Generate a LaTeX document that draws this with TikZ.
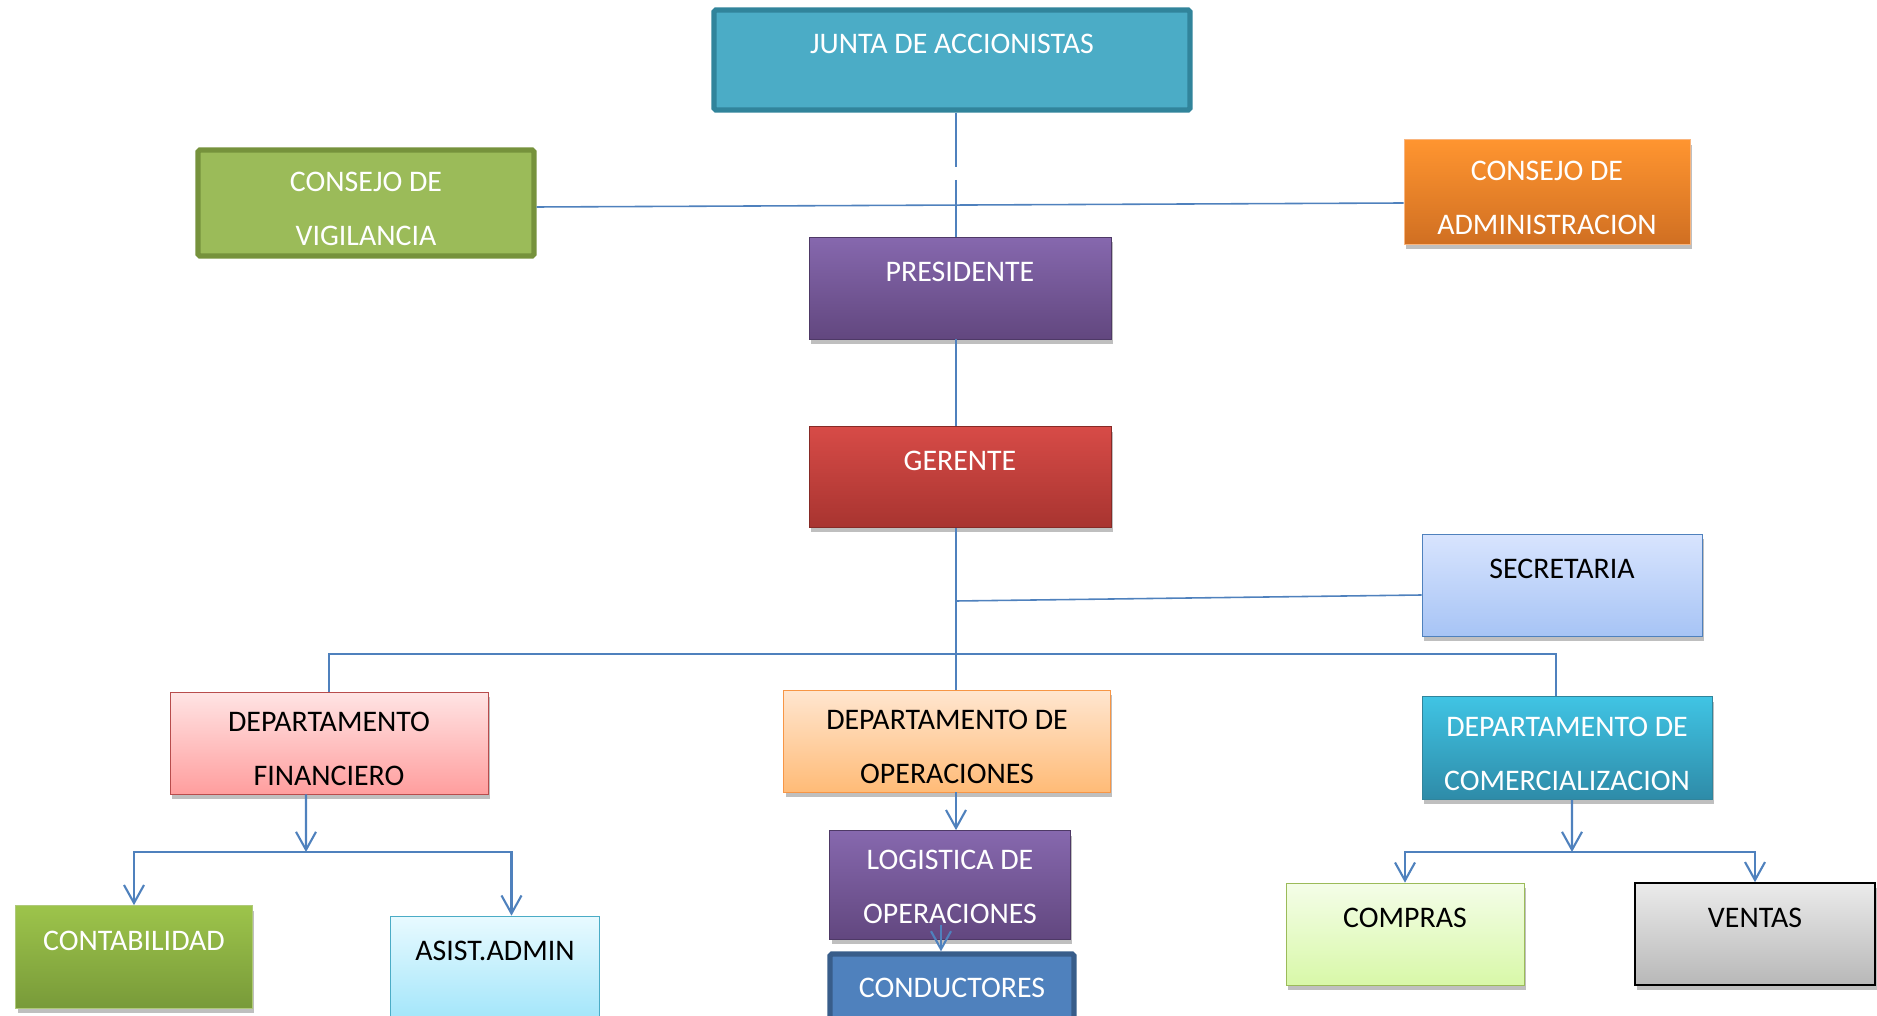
\documentclass[tikz,border=0pt]{standalone}
\usepackage{fontspec}
\setmainfont{Carlito}
\usepackage{tikz}
\usetikzlibrary{arrows.meta,shadows}

\definecolor{azul}{HTML}{4F81BD}
\definecolor{azulosc}{HTML}{385D8A}
\definecolor{turq}{HTML}{4BACC6}
\definecolor{turqosc}{HTML}{31849B}
\definecolor{verde}{HTML}{9BBB59}
\definecolor{verdeosc}{HTML}{76923C}
\definecolor{naranja}{HTML}{F79646}
\definecolor{moradoA}{HTML}{8668AE}
\definecolor{moradoB}{HTML}{62477F}
\definecolor{rojoA}{HTML}{D74B47}
\definecolor{rojoB}{HTML}{A83430}

\begin{document}
\begin{tikzpicture}[
    x=0.02cm, y=-0.02cm,
    caja/.style={rectangle,inner sep=0pt,align=center,
                 font=\fontsize{17}{30.6}\selectfont},
    una/.style={text height=0.45cm,text depth=0.71cm},
    dos/.style={text height=1.8cm,text depth=0.1cm},
    sombra/.style={drop shadow={shadow xshift=0.04cm,shadow yshift=-0.1cm,
                   opacity=0.25,fill=black}},
    morado/.style={top color=moradoA,bottom color=moradoB,draw=moradoB!80!black,text=white},
    linea/.style={draw=azul,line width=0.9pt},
    flecha/.style={linea,line width=1.2pt,-{Straight Barb[length=0.36cm,width=0.4cm]}}
]
\useasboundingbox (0,0) rectangle (1877,1016);

% cabeza
\node[caja,una,minimum width=9.52cm,minimum height=2cm,fill=turq,draw=turqosc,
      line width=3pt,rounded corners=1pt,text=white] (junta) at (952,60) {JUNTA DE ACCIONISTAS};
\node[caja,dos,minimum width=6.72cm,minimum height=2.12cm,fill=verde,draw=verdeosc,
      line width=3pt,rounded corners=1pt,text=white] (vig) at (366,203) {CONSEJO DE\\VIGILANCIA};
\node[caja,dos,sombra,minimum width=5.72cm,minimum height=2.1cm,top color={rgb,255:red,255;green,149;blue,48},
      bottom color={rgb,255:red,208;green,111;blue,34},draw=naranja!70,text=white] (adm) at (1547,192) {CONSEJO DE\\ADMINISTRACION};
\node[caja,una,sombra,morado,minimum width=6.04cm,minimum height=2.04cm] (pres) at (960,288) {PRESIDENTE};
\node[caja,una,sombra,minimum width=6.04cm,minimum height=2.02cm,top color=rojoA,
      bottom color=rojoB,draw=rojoB!80!black,text=white] (ger) at (960,477) {GERENTE};
\node[caja,una,sombra,minimum width=5.6cm,minimum height=2.04cm,top color={rgb,255:red,216;green,228;blue,254},
      bottom color={rgb,255:red,167;green,196;blue,245},draw=azul] (sec) at (1562,585) {SECRETARIA};

% departamentos
\node[caja,dos,sombra,minimum width=6.36cm,minimum height=2.04cm,top color={rgb,255:red,255;green,228;blue,228},
      bottom color={rgb,255:red,255;green,158;blue,158},draw=red!60!black!70] (fin) at (329,743) {DEPARTAMENTO\\FINANCIERO};
\node[caja,dos,sombra,minimum width=6.54cm,minimum height=2.04cm,top color={rgb,255:red,255;green,230;blue,208},
      bottom color={rgb,255:red,255;green,187;blue,119},draw=naranja] (ops) at (947,741) {DEPARTAMENTO DE\\OPERACIONES};
\node[caja,dos,sombra,minimum width=5.8cm,minimum height=2.06cm,top color={rgb,255:red,64;green,196;blue,228},
      bottom color={rgb,255:red,46;green,139;blue,168},draw=turqosc,text=white] (com) at (1567,748) {DEPARTAMENTO DE\\COMERCIALIZACION};

% areas
\node[caja,una,sombra,minimum width=4.74cm,minimum height=2.06cm,top color={rgb,255:red,157;green,196;blue,75},
      bottom color={rgb,255:red,120;green,154;blue,57},draw=verde!80,text=white] (cont) at (134,957) {CONTABILIDAD};
\node[caja,una,minimum width=4.18cm,minimum height=2.04cm,top color={rgb,255:red,232;green,250;blue,255},
      bottom color={rgb,255:red,164;green,230;blue,250},draw=turq] (asist) at (495,967) {ASIST.ADMIN};
\node[caja,sombra,morado,text height=1.64cm,text depth=0.1cm,minimum width=4.82cm,minimum height=2.18cm] (log) at (950,885) {LOGISTICA DE\\OPERACIONES};
\node[caja,text height=0.45cm,text depth=0.25cm,minimum width=4.88cm,minimum height=1.52cm,fill=azul,draw=azulosc,
      line width=3pt,rounded corners=1pt,text=white] (cond) at (952,992) {CONDUCTORES};
\node[caja,una,sombra,minimum width=4.76cm,minimum height=2.04cm,top color={rgb,255:red,244;green,253;blue,232},
      bottom color={rgb,255:red,216;green,248;blue,168},draw=verde] (comp) at (1405,934) {COMPRAS};
\node[caja,una,sombra,minimum width=4.8cm,minimum height=2.04cm,top color=black!8,
      bottom color=black!28,draw=black,line width=0.9pt] (ven) at (1755,934) {VENTAS};

% puntos de paso
\coordinate (eje) at (956,0);
\coordinate (corte1) at (956,167);
\coordinate (corte2) at (956,180);
\coordinate (rama) at (956,601);
\coordinate (bus) at (956,654);
\coordinate (rf) at (306,852);
\coordinate (rc) at (1572,852);
\coordinate (lc) at (941,925);

% conexiones
\draw[linea] (junta.south -| eje) -- (corte1);
\draw[linea] (corte2) -- (pres.north -| eje);
\draw[linea] ([yshift=-0.08cm]vig.east) -- ([yshift=-0.22cm]adm.west);
\draw[linea] (pres.south -| eje) -- (ger.north -| eje);
\draw[linea] (ger.south -| eje) -- (ops.north -| eje);
\draw[linea] (rama) -- ([yshift=-0.2cm]sec.west);
\draw[linea] (fin.north) |- (bus) -| ([xshift=-0.22cm]com.north);

\draw[flecha] ([xshift=-0.46cm]fin.south) -- (rf);
\draw[flecha] (rf) -| (cont.north);
\draw[flecha] (rf) -| ([xshift=0.33cm]asist.north);
\draw[flecha] (ops.south -| eje) -- (log.north -| eje);
\draw[flecha] (lc) -- (lc |- cond.north);
\draw[flecha] ([xshift=0.1cm]com.south) -- (rc);
\draw[flecha] (rc) -| (comp.north);
\draw[flecha] (rc) -| (ven.north);
\end{tikzpicture}
\end{document}
